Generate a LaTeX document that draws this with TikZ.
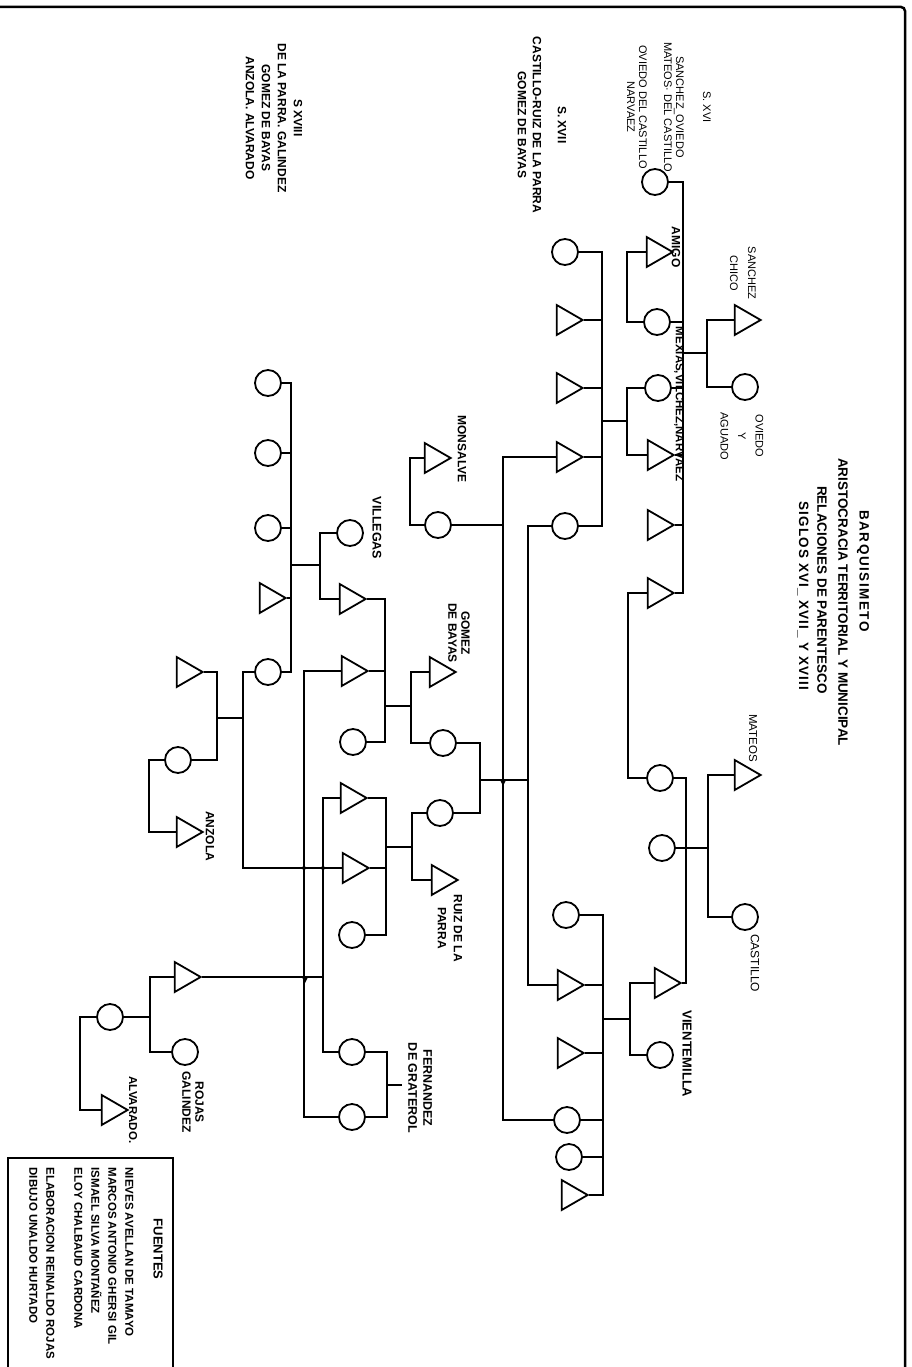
\documentclass[tikz,border=0pt]{standalone}
\usepackage{fontspec}
\setmainfont{Liberation Sans}
\usetikzlibrary{positioning,shapes.geometric}

\begin{document}
\begin{tikzpicture}[
  x=1pt, y=-1pt, line width=1.2pt,
  circ/.style={circle, draw, line width=1.8pt, minimum size=26pt, inner sep=0pt},
  tri/.style={isosceles triangle, isosceles triangle apex angle=60, draw, line width=1.8pt, minimum height=26pt, inner sep=0pt, anchor=lower side, xshift=-11.25pt},
  lbl/.style={rotate=-90, inner sep=0pt, align=center, font=\bfseries\fontsize{12}{13}\selectfont},
  lblr/.style={rotate=-90, inner sep=0pt, align=center, font=\fontsize{11}{12}\selectfont},
  ttl/.style={rotate=-90, inner sep=0pt, font=\bfseries\fontsize{13.5}{15}\selectfont}
]
\useasboundingbox (0,0) rectangle (912,1367);
% frame and source box
\draw[line width=2.5pt, rounded corners=4pt] (0,7) -- (905,7) -- (905,1367);
\draw[line width=2.2pt] (8,1367) -- (8,1158) -- (173,1158) -- (173,1367);

% titles
\node[ttl] (title1) at (863,571) {\addfontfeature{LetterSpace=11}BARQUISIMETO};
\node[ttl] (title2) at (843,602) {ARISTOCRACIA TERRITORIAL Y MUNICIPAL};
\node[ttl] (title3) at (822,590) {RELACIONES DE PARENTESCO};
\node[ttl] (title4) at (803,596) {\addfontfeature{LetterSpace=8}SIGLOS XVI\_ XVII\_ Y XVIII};
\node[lblr] (hdXVI) at (669,107) {S. XVI\\[15pt]SANCHEZ\_OVIEDO\\MATEOS· DEL CASTILLO\\[13pt]OVIEDO DEL CASTILLO\\NARVAEZ};
\node[lbl, font=\bfseries\fontsize{12}{15}\selectfont] (hdXVII) at (542,125) {S. XVII\\[10pt]CASTILLO-RUIZ DE LA PARRA\\GOMEZ DE BAYAS};
\node[lbl, font=\bfseries\fontsize{12}{16}\selectfont] (hdXVIII) at (274,118) {S XVIII\\DE LA PARRA. GALINDEZ\\GOMEZ DE BAYAS\\ANZOLA. ALVARADO};

% generation 1
\node[tri] (tSan) at (745,320) {};
\node[circ] (cOvi) at (745,387) {};
\node[tri] (tMat) at (745,775) {};
\node[circ] (cCas) at (745,917) {};
% generation 2
\node[circ] (cTop) at (655,182) {};
\node[tri] (tAmi) at (657,252) {};
\node[circ] (c2) at (657,322) {};
\node[circ] (c3) at (658,388) {};
\node[tri] (t4) at (658,455) {};
\node[tri] (t5) at (658,525) {};
\node[tri] (t6) at (658,593) {};
\node[circ] (cMat) at (660,778) {};
\node[circ] (c8) at (662,848) {};
\node[tri] (tVie) at (665,983) {};
\node[circ] (cVie) at (660,1055) {};
% generation 3
\node[circ] (c31) at (565,252) {};
\node[tri] (t32) at (567,320) {};
\node[tri] (t33) at (567,388) {};
\node[tri] (t34) at (567,457) {};
\node[circ] (c35) at (565,526) {};
\node[circ] (c36) at (566,915) {};
\node[tri] (t37) at (568,985) {};
\node[tri] (t38) at (568,1053) {};
\node[circ] (c39) at (567,1120) {};
\node[circ] (c40) at (569,1157) {};
\node[tri] (t41) at (572,1195) {};
% generation 4
\node[tri] (tMon) at (435,458) {};
\node[circ] (c42) at (438,525) {};
\node[tri] (tGom) at (440,672) {};
\node[circ] (c43) at (443,743) {};
\node[circ] (c44) at (440,813) {};
\node[tri] (tRuiz) at (442,880) {};
% generation 5
\node[circ] (cVil) at (350,533) {};
\node[tri] (t51) at (350,599) {};
\node[tri] (t52) at (352,671) {};
\node[circ] (c53) at (353,742) {};
\node[tri] (t54) at (351,798) {};
\node[tri] (t55) at (353,868) {};
\node[circ] (c58) at (352,935) {};
\node[circ] (cFer1) at (352,1052) {};
\node[circ] (cFer2) at (352,1117) {};
% generation 6
\node[circ] (c61) at (268,383) {};
\node[circ] (c62) at (268,453) {};
\node[circ] (c63) at (268,528) {};
\node[tri] (t64) at (270,598) {};
\node[circ] (c65) at (268,672) {};
% generation 7 and 8
\node[tri] (t71) at (187,672) {};
\node[circ] (c72) at (178,760) {};
\node[tri] (tAnz) at (187,832) {};
\node[tri] (t73) at (185,977) {};
\node[circ] (cRoj) at (185,1052) {};
\node[circ] (c81) at (110,1017) {};
\node[tri] (tAlv) at (112,1110) {};

% names
\node[lblr, font=\fontsize{11}{18}\selectfont] (lSan) at (743,273) {SANCHEZ\\CHICO};
\node[lblr, font=\fontsize{11}{17.5}\selectfont] (lOvi) at (742,436) {OVIEDO\\Y\\AGUADO};
\node[lbl] (lAmi) at (676,247) {AMIGO};
\node[lbl, font=\bfseries\fontsize{11.5}{13}\selectfont] (lMex) at (679,404) {MEXIAS,VILCHEZ,NARVAEZ};
\node[lblr, font=\fontsize{11.5}{12}\selectfont] (lMat) at (753,738) {MATEOS};
\node[lblr, font=\fontsize{12}{13}\selectfont] (lCas) at (755,963) {CASTILLO};
\node[lbl, font=\bfseries\fontsize{13}{14}\selectfont] (lVie) at (687,1054) {VIENTEMILLA};
\node[lbl] (lMon) at (462,449) {MONSALVE};
\node[lbl] (lGom) at (459,633) {GOMEZ\\DE BAYAS};
\node[lbl, font=\bfseries\fontsize{12}{16}\selectfont] (lRuiz) at (450,928) {RUIZ DE LA\\PARRA};
\node[lbl, font=\bfseries\fontsize{12.5}{15}\selectfont] (lVil) at (377,528) {VILLEGAS};
\node[lbl, font=\bfseries\fontsize{12.5}{15}\selectfont] (lFer) at (420,1088) {FERNANDEZ\\DE GRATEROL};
\node[lbl] (lAnz) at (210,836) {ANZOLA};
\node[lbl] (lRoj) at (193,1102) {ROJAS\\GALINDEZ};
\node[lbl, font=\bfseries\fontsize{11.5}{13}\selectfont] (lAlv) at (133,1110) {ALVARADO.};
\node[lbl, font=\bfseries\fontsize{13}{14}\selectfont] (lFue) at (158,1249) {FUENTES};
\node[lbl, anchor=north west, align=left, font=\bfseries\fontsize{11.5}{17}\selectfont] (lSrc) at (134,1167) {NIEVES AVELLAN DE TAMAYO\\MARCOS ANTONIO GHERSI GIL\\ISMAEL SILVA MONTAÑEZ\\ELOY CHALBAUD CARDONA\\[11pt]ELABORACION REINALDO ROJAS\\DIBUJO UNALDO HURTADO};

% sibling lines
\coordinate (xA) at (683,0); \coordinate (xB) at (686,0); \coordinate (xC) at (602,0);
\coordinate (xD) at (603,0); \coordinate (xE) at (480,0); \coordinate (xF) at (385,0);
\coordinate (xG) at (386,0); \coordinate (xH) at (387,0); \coordinate (xI) at (291,0);
\coordinate (xJ) at (217,0);
% marriage brackets
\coordinate (bSan) at (707,0); \coordinate (bMat) at (708,0); \coordinate (bAmi) at (627,0);
\coordinate (bC3) at (627,0); \coordinate (bT6) at (628,0); \coordinate (bVie) at (630,0);
\coordinate (bT34) at (503,0); \coordinate (bC35) at (528,0); \coordinate (bMon) at (410,0);
\coordinate (bGom) at (411,0); \coordinate (bC44) at (412,0); \coordinate (bVil) at (320,0);
\coordinate (bT52) at (304,0); \coordinate (bT54) at (323,0); \coordinate (bC65) at (243,0);
\coordinate (bAnz) at (149,0); \coordinate (bT73) at (150,0); \coordinate (bC81) at (80,0);
% descent points
\coordinate (dSan) at (707,353); \coordinate (dC3) at (627,421); \coordinate (dVie) at (630,1019);
\coordinate (dC35) at (528,780); \coordinate (dGom) at (411,706); \coordinate (dC44) at (412,847);
\coordinate (dVil) at (320,565); \coordinate (dC65) at (243,718); \coordinate (dT54) at (323,977);
\coordinate (dT73) at (150,1017); \coordinate (dMat) at (708,848); \coordinate (dFer) at (387,1085);
\coordinate (eFer) at (402,1085);

\draw (tSan.west) -| (cOvi.west -| bSan) -- (cOvi.west); \draw (dSan) -- (dSan -| xA);
\draw (tMat.west) -| (cCas.west -| bMat) -- (cCas.west); \draw (dMat) -- (c8.east);
\draw (cTop.east) -| (t6.east -| xA) -- (t6.east);
\foreach \n in {c2,c3,t4,t5} \draw (\n.east) -- (\n.east -| xA);
\draw (tAmi.west) -| (c2.west -| bAmi) -- (c2.west);
\draw (c3.west) -| (t4.west -| bC3) -- (t4.west); \draw (dC3) -- (dC3 -| xC);
\draw (t6.west) -| (cMat.west -| bT6) -- (cMat.west);
\draw (cMat.east) -| (tVie.east -| xB) -- (tVie.east);
\draw (tVie.west) -| (cVie.west -| bVie) -- (cVie.west); \draw (dVie) -- (dVie -| xD);

\draw (c31.east) -| (c35.east -| xC) -- (c35.east);
\foreach \n in {t32,t33,t34} \draw (\n.east) -- (\n.east -| xC);
\draw (c36.east) -| (t41.east -| xD) -- (t41.east);
\foreach \n in {t37,t38,c39,c40} \draw (\n.east) -- (\n.east -| xD);
\draw (t34.west) -| (c39.west -| bT34) -- (c39.west);
\draw (c35.west) -| (t37.west -| bC35) -- (t37.west); \draw (dC35) -- (dC35 -| xE);
\fill (500,780) -- (506,780) -- (503,786) -- cycle;

\draw (tMon.west) -| (c42.west -| bMon) -- (c42.west); \draw (c42.east) -- (c42.east -| bT34);
\draw (c43.east) -| (c44.east -| xE) -- (c44.east);
\draw (tGom.west) -| (c43.west -| bGom) -- (c43.west); \draw (dGom) -- (dGom -| xF);
\draw (c44.west) -| (tRuiz.west -| bC44) -- (tRuiz.west); \draw (dC44) -- (dC44 -| xG);

\draw (t51.east) -| (c53.east -| xF) -- (c53.east); \draw (t52.east) -- (t52.east -| xF);
\draw (t54.east) -| (c58.east -| xG) -- (c58.east); \draw (t55.east) -- (t55.east -| xG);
\draw (cVil.west) -| (t51.west -| bVil) -- (t51.west); \draw (dVil) -- (dVil -| xI);
\draw (t52.west) -| (cFer2.west -| bT52) -- (cFer2.west);
\draw (t54.west) -| (cFer1.west -| bT54) -- (cFer1.west); \draw (dT54) -- (t73.east);
\fill (302,977) -- (308,977) -- (305,983) -- cycle;
\draw (cFer1.east) -| (cFer2.east -| xH) -- (cFer2.east); \draw (dFer) -- (eFer);

\draw (c61.east) -| (c65.east -| xI) -- (c65.east);
\foreach \n in {c62,c63,t64} \draw (\n.east) -- (\n.east -| xI);
\draw (c65.west) -| (t55.west -| bC65) -- (t55.west); \draw (dC65) -- (dC65 -| xJ);
\fill (304,868) circle (2pt); \fill (323,868) circle (2pt);

\draw (t71.east) -| (c72.east -| xJ) -- (c72.east);
\draw (c72.west) -| (tAnz.west -| bAnz) -- (tAnz.west);
\draw (t73.west) -| (cRoj.west -| bT73) -- (cRoj.west); \draw (dT73) -- (c81.east);
\draw (c81.west) -| (tAlv.west -| bC81) -- (tAlv.west);
\end{tikzpicture}
\end{document}
